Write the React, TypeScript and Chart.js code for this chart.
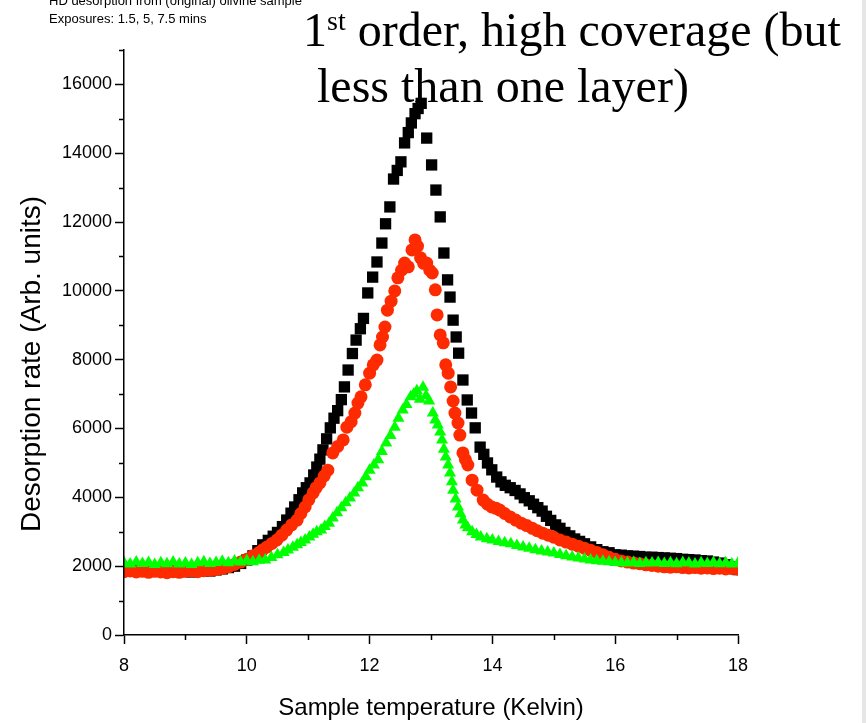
import React, { useEffect, useRef } from "react";
import { Chart, registerables } from "chart.js";

Chart.register(...registerables);

// ---- Data ----
const blackT = [8.0, 8.1, 8.2, 8.3, 8.4, 8.5, 8.6, 8.7, 8.8, 8.9, 9.0, 9.1, 9.2, 9.3, 9.4, 9.5, 9.6, 9.7, 9.8, 9.9, 10.0, 10.1, 10.18, 10.26, 10.35, 10.43, 10.5, 10.58, 10.65, 10.72, 10.78, 10.85, 10.91, 10.97, 11.03, 11.09, 11.14, 11.19, 11.24, 11.3, 11.36, 11.42, 11.48, 11.54, 11.59, 11.65, 11.72, 11.78, 11.85, 11.9, 11.97, 12.05, 12.12, 12.2, 12.26, 12.33, 12.39, 12.45, 12.51, 12.57, 12.63, 12.68, 12.74, 12.79, 12.84, 12.93, 13.01, 13.08, 13.15, 13.21, 13.27, 13.31, 13.36, 13.41, 13.45, 13.52, 13.59, 13.66, 13.72, 13.8, 13.86, 13.92, 13.99, 14.07, 14.14, 14.21, 14.29, 14.37, 14.45, 14.52, 14.6, 14.67, 14.74, 14.81, 14.88, 14.95, 15.03, 15.1, 15.18, 15.26, 15.34, 15.42, 15.5, 15.6, 15.7, 15.8, 15.9, 16.0, 16.1, 16.2, 16.3, 16.4, 16.5, 16.6, 16.7, 16.8, 16.9, 17.0, 17.1, 17.2, 17.3, 17.4, 17.5, 17.6, 17.7, 17.8, 17.9, 18.0];
const blackV = [1870, 1880, 1860, 1890, 1870, 1880, 1850, 1870, 1860, 1840, 1860, 1830, 1850, 1870, 1860, 1890, 1920, 1960, 2000, 2080, 2180, 2300, 2450, 2620, 2750, 2870, 2980, 3150, 3340, 3540, 3720, 3930, 4130, 4280, 4420, 4650, 4880, 5110, 5380, 5700, 6020, 6300, 6520, 6840, 7210, 7700, 8180, 8570, 8900, 9200, 9940, 10400, 10840, 11390, 11950, 12440, 13250, 13500, 13750, 14300, 14600, 14880, 15150, 15300, 15450, 14440, 13660, 12930, 12150, 11100, 10320, 9820, 9150, 8660, 8190, 7410, 6830, 6450, 6020, 5460, 5250, 5000, 4800, 4590, 4450, 4350, 4280, 4200, 4100, 3990, 3900, 3800, 3700, 3600, 3450, 3330, 3200, 3100, 2980, 2880, 2790, 2720, 2650, 2560, 2480, 2420, 2390, 2330, 2320, 2300, 2290, 2280, 2260, 2260, 2250, 2240, 2230, 2220, 2200, 2190, 2180, 2160, 2150, 2120, 2090, 2040, 1980, 1900];

const redT = [8.0, 8.1, 8.2, 8.3, 8.4, 8.5, 8.6, 8.7, 8.8, 8.9, 9.0, 9.1, 9.2, 9.3, 9.4, 9.5, 9.6, 9.7, 9.8, 9.9, 10.0, 10.1, 10.2, 10.26, 10.33, 10.41, 10.49, 10.57, 10.65, 10.73, 10.82, 10.88, 10.95, 11.01, 11.08, 11.13, 11.19, 11.26, 11.32, 11.4, 11.48, 11.57, 11.63, 11.7, 11.76, 11.81, 11.86, 11.93, 12.0, 12.06, 12.12, 12.17, 12.21, 12.25, 12.29, 12.35, 12.41, 12.46, 12.52, 12.57, 12.63, 12.69, 12.74, 12.78, 12.83, 12.88, 12.93, 12.98, 13.02, 13.07, 13.1, 13.15, 13.2, 13.24, 13.28, 13.32, 13.36, 13.39, 13.44, 13.47, 13.52, 13.56, 13.6, 13.67, 13.75, 13.85, 13.92, 13.99, 14.06, 14.12, 14.2, 14.29, 14.38, 14.47, 14.56, 14.65, 14.73, 14.82, 14.91, 15.0, 15.1, 15.2, 15.3, 15.4, 15.5, 15.6, 15.7, 15.8, 15.9, 16.0, 16.1, 16.2, 16.3, 16.4, 16.5, 16.6, 16.7, 16.8, 16.9, 17.0, 17.1, 17.2, 17.3, 17.4, 17.5, 17.6, 17.7, 17.8, 17.9, 18.0];
const redV = [1840, 1860, 1830, 1850, 1820, 1850, 1830, 1810, 1840, 1820, 1850, 1860, 1840, 1870, 1880, 1900, 1930, 1980, 2050, 2120, 2200, 2300, 2400, 2480, 2560, 2660, 2760, 2900, 3050, 3200, 3340, 3530, 3720, 3930, 4130, 4280, 4420, 4620, 4790, 5290, 5480, 5670, 6040, 6200, 6450, 6740, 6920, 7270, 7610, 7850, 7990, 8430, 8660, 8950, 9440, 9700, 10000, 10380, 10600, 10810, 10700, 11190, 11480, 11300, 10960, 10800, 10810, 10600, 10520, 10030, 9300, 8720, 8490, 7850, 7610, 7210, 6800, 6450, 6160, 5810, 5290, 5100, 4940, 4500, 4210, 3920, 3800, 3720, 3680, 3630, 3530, 3430, 3340, 3250, 3180, 3100, 3030, 2960, 2900, 2840, 2760, 2700, 2640, 2580, 2520, 2460, 2400, 2330, 2260, 2200, 2150, 2120, 2090, 2070, 2040, 2020, 2000, 1980, 1970, 1980, 1960, 1950, 1960, 1940, 1950, 1930, 1940, 1920, 1930, 1910];

const greenT = [8.0, 8.1, 8.2, 8.3, 8.4, 8.5, 8.6, 8.7, 8.8, 8.9, 9.0, 9.1, 9.2, 9.3, 9.4, 9.5, 9.6, 9.7, 9.8, 9.9, 10.0, 10.1, 10.2, 10.3, 10.4, 10.5, 10.6, 10.67, 10.75, 10.82, 10.88, 10.95, 11.02, 11.08, 11.14, 11.21, 11.27, 11.34, 11.4, 11.47, 11.54, 11.61, 11.68, 11.75, 11.81, 11.88, 11.94, 12.0, 12.07, 12.14, 12.2, 12.27, 12.34, 12.41, 12.47, 12.54, 12.6, 12.67, 12.72, 12.77, 12.82, 12.87, 12.92, 12.97, 13.03, 13.07, 13.11, 13.15, 13.18, 13.21, 13.24, 13.28, 13.31, 13.34, 13.36, 13.4, 13.44, 13.48, 13.52, 13.56, 13.6, 13.67, 13.74, 13.81, 13.91, 14.0, 14.1, 14.2, 14.3, 14.4, 14.5, 14.6, 14.7, 14.8, 14.9, 15.0, 15.1, 15.2, 15.3, 15.4, 15.5, 15.6, 15.7, 15.8, 15.9, 16.0, 16.1, 16.2, 16.3, 16.4, 16.5, 16.6, 16.7, 16.8, 16.9, 17.0, 17.1, 17.2, 17.3, 17.4, 17.5, 17.6, 17.7, 17.8, 17.9, 18.0];
const greenV = [2100, 2060, 2120, 2080, 2110, 2050, 2100, 2070, 2120, 2060, 2090, 2050, 2100, 2130, 2080, 2110, 2140, 2100, 2150, 2120, 2160, 2130, 2170, 2180, 2250, 2330, 2400, 2470, 2550, 2620, 2690, 2760, 2850, 2930, 3000, 3050, 3150, 3250, 3400, 3550, 3700, 3840, 3980, 4130, 4280, 4420, 4600, 4790, 4940, 5090, 5330, 5580, 5800, 6040, 6300, 6540, 6700, 6920, 7000, 7100, 6850, 7200, 6950, 6800, 6450, 6250, 6100, 5900, 5670, 5400, 5170, 4940, 4710, 4450, 4210, 3950, 3720, 3520, 3340, 3200, 3120, 3000, 2920, 2850, 2800, 2760, 2720, 2680, 2650, 2600, 2560, 2520, 2480, 2440, 2410, 2380, 2340, 2300, 2270, 2240, 2210, 2180, 2160, 2140, 2130, 2110, 2100, 2090, 2110, 2080, 2100, 2090, 2110, 2080, 2100, 2070, 2110, 2090, 2060, 2100, 2080, 2110, 2070, 2100, 2060, 2090];

const xMajorTicks = [8, 10, 12, 14, 16, 18];
const xMinorTicks = [9, 11, 13, 15, 17];
const yMajorTicks = [0, 2000, 4000, 6000, 8000, 10000, 12000, 14000, 16000];
const yMinorTicks = [1000, 3000, 5000, 7000, 9000, 11000, 13000, 15000, 17000];

const xTitle = "Sample temperature (Kelvin)";
const yTitle = "Desorption rate (Arb. units)";
const noteLines = ["HD desorption from (original) olivine sample", "Exposures: 1.5, 5, 7.5 mins"];

const SANS = '"Liberation Sans", Arial, sans-serif';

const toPoints = (xs: number[], ys: number[]) => xs.map((x, i) => ({ x, y: ys[i] }));

const extrasPlugin = {
  id: "extras",
  afterDraw(chart: any) {
    const { ctx, chartArea, scales } = chart;
    const x = scales.x;
    const y = scales.y;
    ctx.save();
    ctx.strokeStyle = "#000";
    ctx.lineWidth = 1.5;
    ctx.beginPath();
    for (const v of yMinorTicks) {
      const py = Math.round(y.getPixelForValue(v)) + 0.5;
      ctx.moveTo(chartArea.left - 5, py);
      ctx.lineTo(chartArea.left, py);
    }
    for (const v of xMinorTicks) {
      const px = Math.round(x.getPixelForValue(v)) + 0.5;
      ctx.moveTo(px, chartArea.bottom);
      ctx.lineTo(px, chartArea.bottom + 5);
    }
    ctx.stroke();
    // y axis title
    ctx.translate(32, 364);
    ctx.rotate(-Math.PI / 2);
    ctx.textAlign = "center";
    ctx.textBaseline = "middle";
    ctx.fillStyle = "#000";
    ctx.font = `28px ${SANS}`;
    ctx.fillText(yTitle, 0, 0);
    ctx.restore();
  },
};

export default function App() {
  const ref = useRef<HTMLCanvasElement | null>(null);

  useEffect(() => {
    if (!ref.current) return;
    const tickFont = { family: SANS, size: 18 };
    const chart = new Chart(ref.current, {
      type: "scatter",
      data: {
        datasets: [
          {
            label: "7.5 mins",
            data: toPoints(greenT, greenV),
            backgroundColor: "#00ff00",
            borderColor: "#00ff00",
            pointStyle: "triangle",
            pointRadius: 7,
            pointBorderWidth: 0,
            showLine: false,
            order: 1,
            clip: 0,
          },
          {
            label: "5 mins",
            data: toPoints(redT, redV),
            backgroundColor: "#ff2b00",
            borderColor: "#ff2b00",
            pointStyle: "circle",
            pointRadius: 6.5,
            pointBorderWidth: 0,
            showLine: false,
            order: 2,
            clip: 0,
          },
          {
            label: "1.5 mins",
            data: toPoints(blackT, blackV),
            backgroundColor: "#000000",
            borderColor: "#000000",
            pointStyle: "rect",
            pointRadius: 8,
            pointBorderWidth: 0,
            showLine: false,
            order: 3,
            clip: 0,
          },
        ],
      },
      options: {
        responsive: false,
        maintainAspectRatio: false,
        animation: false,
        devicePixelRatio: 1,
        layout: { padding: { top: 50, right: 128, bottom: 0, left: 0 } },
        plugins: {
          legend: { display: false },
          tooltip: { enabled: false },
          title: { display: false },
        },
        scales: {
          x: {
            type: "linear",
            min: 8,
            max: 18,
            afterBuildTicks: (s: any) => {
              s.ticks = xMajorTicks.map((v) => ({ value: v }));
            },
            afterFit: (s: any) => {
              s.height = 88;
            },
            ticks: {
              font: tickFont,
              color: "#000",
              padding: 11,
              maxRotation: 0,
              autoSkip: false,
              callback: (v: any) => String(v),
            },
            grid: {
              display: true,
              drawOnChartArea: false,
              drawTicks: true,
              tickLength: 9,
              tickWidth: 1.5,
              tickColor: "#000",
            },
            border: { display: true, color: "#000", width: 1.5, z: 1 },
            title: {
              display: true,
              text: xTitle,
              color: "#000",
              font: { family: SANS, size: 24 },
              padding: { top: 0, bottom: 0 },
            },
          },
          y: {
            type: "linear",
            min: 0,
            max: 17000,
            afterBuildTicks: (s: any) => {
              s.ticks = yMajorTicks.map((v) => ({ value: v }));
            },
            afterFit: (s: any) => {
              s.width = 124;
            },
            ticks: {
              font: tickFont,
              color: "#000",
              padding: 3,
              autoSkip: false,
              callback: (v: any) => String(v),
            },
            grid: {
              display: true,
              drawOnChartArea: false,
              drawTicks: true,
              tickLength: 9,
              tickWidth: 1.5,
              tickColor: "#000",
            },
            border: { display: true, color: "#000", width: 1.5, z: 1 },
            title: { display: false },
          },
        },
      },
      plugins: [extrasPlugin],
    } as any);
    return () => chart.destroy();
  }, []);

  return (
    <div
      style={{
        position: "fixed",
        left: 0,
        top: 0,
        width: 866,
        height: 723,
        background: "#fff",
        overflow: "hidden",
      }}
    >
      <canvas ref={ref} width={866} height={723} style={{ position: "absolute", left: 0, top: 0 }} />
      <div
        style={{
          position: "absolute",
          left: 49,
          top: -8,
          font: `13px ${SANS}`,
          lineHeight: "17.7px",
          color: "#000",
          whiteSpace: "nowrap",
        }}
      >
        <div>{noteLines[0]}</div>
        <div>{noteLines[1]}</div>
      </div>
      <div
        style={{
          position: "absolute",
          left: 303,
          top: 2,
          font: '48px "Liberation Serif", "Times New Roman", serif',
          lineHeight: "56px",
          color: "#000",
          whiteSpace: "nowrap",
        }}
      >
        1
        <span style={{ fontSize: 28, position: "relative", top: -16 }}>st</span> order, high coverage (but
      </div>
      <div
        style={{
          position: "absolute",
          left: 317,
          top: 58,
          font: '48px "Liberation Serif", "Times New Roman", serif',
          lineHeight: "56px",
          color: "#000",
          whiteSpace: "nowrap",
        }}
      >
        less than one layer)
      </div>
      <div
        style={{
          position: "absolute",
          left: 862,
          top: 0,
          width: 4,
          height: 723,
          background: "#e6e6e6",
        }}
      />
    </div>
  );
}
